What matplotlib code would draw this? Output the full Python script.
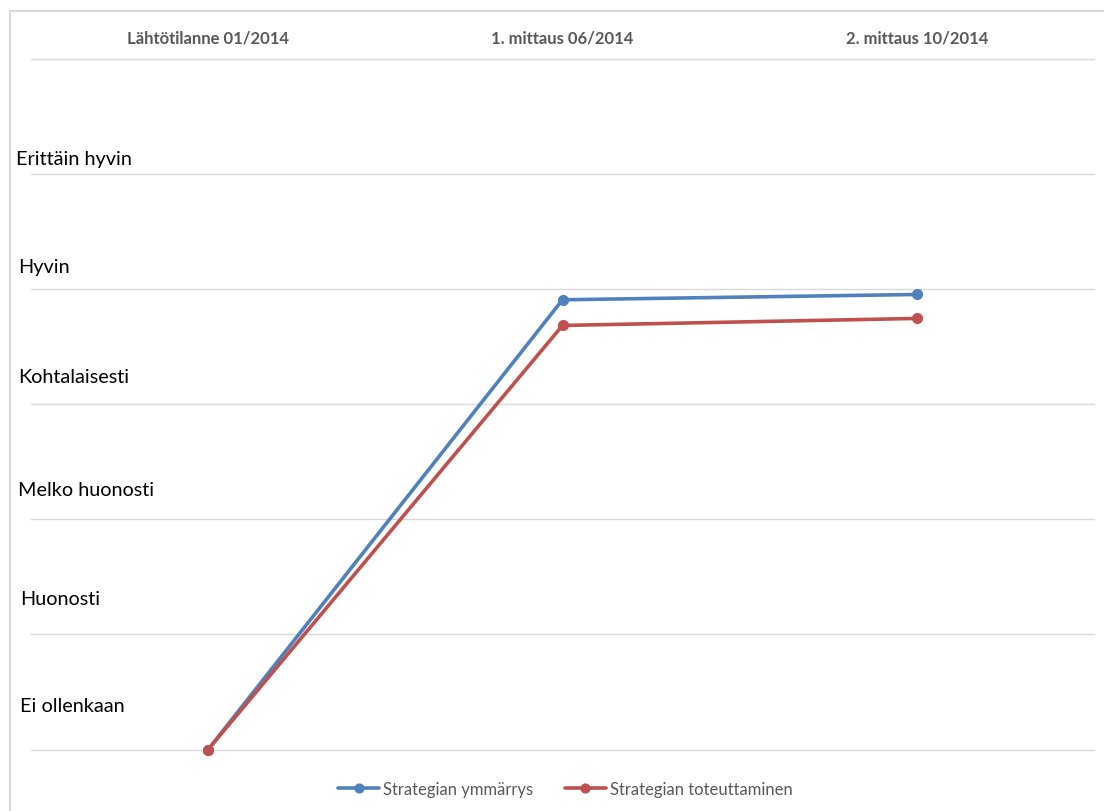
import matplotlib
matplotlib.use("Agg")
import matplotlib.pyplot as plt
from matplotlib.patches import Rectangle
from matplotlib.transforms import blended_transform_factory

# data
periods = ["Lähtötilanne 01/2014", "1. mittaus 06/2014", "2. mittaus 10/2014"]
understanding = [0.0, 3.905, 3.951]
implementation = [0.0, 3.682, 3.743]
series_names = ["Strategian ymmärrys", "Strategian toteuttaminen"]
levels = ["Ei ollenkaan", "Huonosti", "Melko huonosti", "Kohtalaisesti", "Hyvin", "Erittäin hyvin"]

BLUE = "#4F81BD"
RED = "#C0504D"
GREY = "#595959"
GRID = "#D9D9D9"

plt.rcParams.update({"font.family": ["Lato", "DejaVu Sans"]})

W, H = 1104, 812
fig = plt.figure(figsize=(W / 100, H / 100), dpi=100)
ax = fig.add_axes([31 / W, (H - 750.5) / H, (1094 - 31) / W, (750.5 - 59.5) / H])

x = range(len(periods))
ax.plot(x, understanding, color=BLUE, lw=2.6, marker="o", ms=7, label=series_names[0],
        solid_capstyle="round", zorder=3, clip_on=False)
ax.plot(x, implementation, color=RED, lw=2.6, marker="o", ms=7, label=series_names[1],
        solid_capstyle="round", zorder=3, clip_on=False)

ax.set_xlim(-0.5, len(periods) - 0.5)
ax.set_ylim(0, 6)
ax.set_yticks(range(7))
ax.set_yticklabels([])
ax.tick_params(axis="y", length=0)
ax.grid(axis="y", color=GRID, lw=1)
for g in ax.get_ygridlines():
    g.set_clip_on(False)
ax.set_axisbelow(True)
for s in ax.spines.values():
    s.set_visible(False)

ax.xaxis.tick_top()
ax.set_xticks(list(x))
ax.set_xticklabels(periods, fontsize=12, fontweight="bold", color=GREY)
ax.tick_params(axis="x", length=0, pad=9)

# level names sit just above their grid line, left of the plot
offsets = [0.38, 1.31, 2.26, 3.24, 4.19, 5.13]
xpos = [20, 20, 18, 18, 18, 16]
trans = blended_transform_factory(fig.transFigure, ax.transData)
for name, yv, xp in zip(levels, offsets, xpos):
    ax.text(xp / W, yv, name, transform=trans, fontsize=14.3,
            color="black", va="center", ha="left", clip_on=False)

fig.legend(loc="center", bbox_to_anchor=(565 / W, 1 - 790 / H), ncol=2, frameon=False,
           fontsize=12, labelcolor=GREY, handlelength=2.5, handletextpad=0.2,
           columnspacing=1.9, markerscale=0.9)

fig.patches.append(Rectangle((10 / W, -0.1), 1.2, 1 - 12 / H + 0.1, transform=fig.transFigure,
                             fill=False, edgecolor=GRID, lw=1.5, figure=fig))

fig.savefig("out.png", dpi=100)
